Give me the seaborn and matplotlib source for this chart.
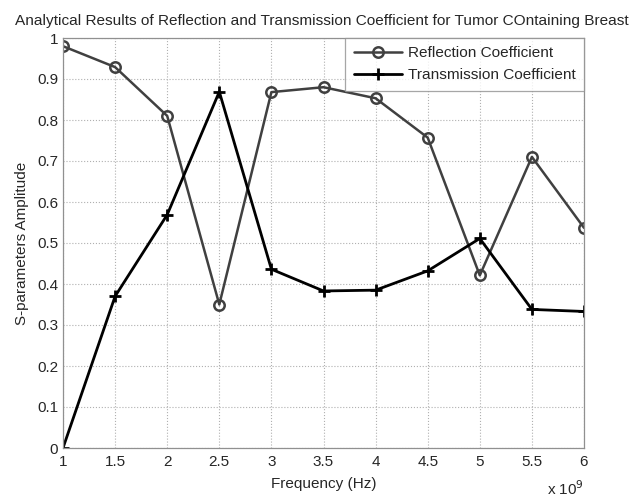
import matplotlib
matplotlib.use("Agg")
import matplotlib.pyplot as plt
import seaborn as sns
from matplotlib.ticker import FuncFormatter, MultipleLocator

# Values
freq_hz = [1.0e9, 1.5e9, 2.0e9, 2.5e9, 3.0e9, 3.5e9, 4.0e9, 4.5e9, 5.0e9, 5.5e9, 6.0e9]
reflection = [0.98, 0.929, 0.81, 0.35, 0.868, 0.88, 0.853, 0.757, 0.421, 0.71, 0.537]
transmission = [0.0, 0.37, 0.569, 0.869, 0.436, 0.383, 0.385, 0.432, 0.511, 0.338, 0.333]

sns.set_style("white")
plt.rcParams['font.family'] = ['Liberation Sans', 'DejaVu Sans']

fig = plt.figure(figsize=(6.36, 4.97), dpi=100)
# axes box: 63..584 px wide, 38..448 px tall
ax = fig.add_axes([63 / 636, 49 / 497, 521 / 636, 410 / 497])

sns.lineplot(x=freq_hz, y=reflection, ax=ax, color='#404040', linewidth=1.8,
             marker='o', markersize=7.5, markerfacecolor='none',
             markeredgecolor='#404040', markeredgewidth=1.8,
             label='Reflection Coefficient')
sns.lineplot(x=freq_hz, y=transmission, ax=ax, color='black', linewidth=2.0,
             marker='+', markersize=9, markeredgewidth=2.0,
             markeredgecolor='black',
             label='Transmission Coefficient')

ax.set_xlim(1e9, 6e9)
ax.set_ylim(0, 1)
ax.xaxis.set_major_locator(MultipleLocator(0.5e9))
ax.yaxis.set_major_locator(MultipleLocator(0.1))
ax.xaxis.set_major_formatter(FuncFormatter(lambda v, p: '%g' % (v / 1e9)))
ax.yaxis.set_major_formatter(FuncFormatter(lambda v, p: '%g' % round(v, 2)))

ax.grid(True, linestyle=':', color='#b0b0b0', linewidth=0.8)
for s in ax.spines.values():
    s.set_color('#909090')
    s.set_linewidth(0.9)
ax.tick_params(direction='in', length=4, color='#909090', labelsize=11)
ax.tick_params(axis='x', pad=5)
ax.tick_params(axis='y', pad=3.5)

fig.text(322 / 636, 1 - 25 / 497,
         'Analytical Results of Reflection and Transmission Coefficient for Tumor COntaining Breast',
         fontsize=11.05, ha='center', va='baseline')
ax.set_xlabel('Frequency (Hz)', fontsize=11, labelpad=6)
ax.set_ylabel('S-parameters Amplitude', fontsize=11, labelpad=6)
ax.text(1.0, -47 / 410, r'x 10$^{9}$', transform=ax.transAxes, ha='right', va='baseline', fontsize=11)

leg = ax.legend(loc='upper right', fontsize=11.1, frameon=True, fancybox=False,
                borderaxespad=0.0, handlelength=3.1, labelspacing=0.5,
                handletextpad=0.4, borderpad=0.55)
leg.get_frame().set_edgecolor('#909090')
leg.get_frame().set_linewidth(0.9)

fig.savefig('out.png', dpi=100)
